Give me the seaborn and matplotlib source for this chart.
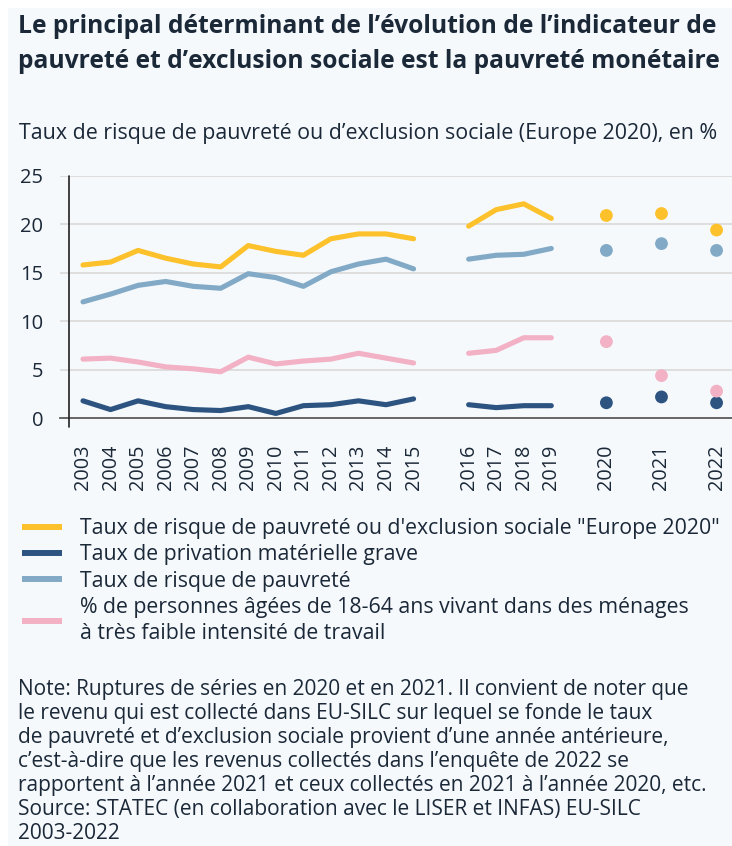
import matplotlib
matplotlib.use("Agg")
import matplotlib.pyplot as plt
from matplotlib.lines import Line2D
from matplotlib.patches import Rectangle
import numpy as np
import pandas as pd
import seaborn as sns

# ---- data -------------------------------------------------------------
years = list(range(2003, 2023))
# survey blocks separated by series breaks
year_groups = [list(range(2003, 2016)), list(range(2016, 2020)), [2020], [2021], [2022]]

europe2020 = [15.8, 16.1, 17.3, 16.5, 15.9, 15.6, 17.8, 17.2, 16.8, 18.5, 19.0, 19.0, 18.5,
              19.8, 21.5, 22.1, 20.6, 20.9, 21.1, 19.4]
privation = [1.8, 0.9, 1.8, 1.2, 0.9, 0.8, 1.2, 0.5, 1.3, 1.4, 1.8, 1.4, 2.0,
             1.4, 1.1, 1.3, 1.3, 1.6, 2.2, 1.6]
risque_pauvrete = [12.0, 12.8, 13.7, 14.1, 13.6, 13.4, 14.9, 14.5, 13.6, 15.1, 15.9, 16.4, 15.4,
                   16.4, 16.8, 16.9, 17.5, 17.3, 18.0, 17.3]
faible_intensite = [6.1, 6.2, 5.8, 5.3, 5.1, 4.8, 6.3, 5.6, 5.9, 6.1, 6.7, 6.2, 5.7,
                    6.7, 7.0, 8.3, 8.3, 7.9, 4.4, 2.8]

series_labels = [
    'Taux de risque de pauvreté ou d\'exclusion sociale "Europe 2020"',
    "Taux de privation matérielle grave",
    "Taux de risque de pauvreté",
    "% de personnes âgées de 18-64 ans vivant dans des ménages\nà très faible intensité de travail",
]
series_values = [europe2020, privation, risque_pauvrete, faible_intensite]
colors = ["#FDC12B", "#2D5481", "#82AAC7", "#F2B1C4"]
y_ticks = [0, 5, 10, 15, 20, 25]

title = ("Le principal déterminant de l’évolution de l’indicateur de\n"
         "pauvreté et d’exclusion sociale est la pauvreté monétaire")
subtitle = "Taux de risque de pauvreté ou d’exclusion sociale (Europe 2020), en %"
note = ("Note: Ruptures de séries en 2020 et en 2021. Il convient de noter que\n"
        "le revenu qui est collecté dans EU-SILC sur lequel se fonde le taux\n"
        "de pauvreté et d’exclusion sociale provient d’une année antérieure,\n"
        "c’est-à-dire que les revenus collectés dans l’enquête de 2022 se\n"
        "rapportent à l’année 2021 et ceux collectés en 2021 à l’année 2020, etc.\n"
        "Source: STATEC (en collaboration avec le LISER et INFAS) EU-SILC\n"
        "2003-2022")

# ---- layout of categories: one empty slot after each block ----------
pos_of = {}
block_of = {}
p = 0
for b, grp in enumerate(year_groups):
    for y in grp:
        pos_of[y] = p
        block_of[y] = b
        p += 1
    p += 1

rows = []
for label, vals in zip(series_labels, series_values):
    for y, v in zip(years, vals):
        rows.append({"year": y, "pos": pos_of[y], "block": block_of[y],
                     "series": label, "value": v})
df = pd.DataFrame(rows)

# ---- figure ------------------------------------------------------------
sns.set_theme(style="white")
plt.rcParams["font.family"] = ["Open Sans", "DejaVu Sans"]
text_color = "#1B2838"
bg = "#F5F9FC"
W, H = 732, 846

fig = plt.figure(figsize=(W / 100, H / 100), dpi=100, facecolor="white")
fig.patches.append(Rectangle((8 / W, 0), 1, 1 - 8 / H, transform=fig.transFigure,
                             facecolor=bg, edgecolor="none", zorder=-10))

ax = fig.add_axes([60 / W, (H - 418.3) / H, 672 / W, (418.3 - 175.7) / H])
ax.set_facecolor(bg)

for label, color in zip(series_labels, colors):
    sub = df[df["series"] == label]
    for b, grp in sub.groupby("block"):
        if len(grp) > 1:
            sns.lineplot(data=grp, x="pos", y="value", color=color, linewidth=3.7,
                         ax=ax, legend=False, zorder=3)
        else:
            sns.scatterplot(data=grp, x="pos", y="value", color=color, s=85,
                            edgecolor="none", ax=ax, legend=False, zorder=3)

ax.set_xlim(-0.835, 23.56)
ax.set_ylim(0, 25)
ax.set_yticks(y_ticks)
ax.set_yticklabels([str(t) for t in y_ticks], fontsize=14.5, color=text_color)
ax.set_xticks([pos_of[y] for y in years])
ax.set_xticklabels([str(y) for y in years], rotation=90, fontsize=14.3, color=text_color)
ax.tick_params(axis="both", length=0)
ax.tick_params(axis="x", pad=19)
ax.tick_params(axis="y", pad=12)
for t in y_ticks[1:]:
    ax.axhline(t, color="#DCDCDC", linewidth=1.3, zorder=1)
for s in ["top", "right", "left"]:
    ax.spines[s].set_visible(False)
ax.spines["bottom"].set_color("#5A5A5A")
ax.spines["bottom"].set_linewidth(1.3)
ax.plot([-0.5, -0.5], [-0.9, 25], color="#222222", linewidth=1.2, clip_on=False, zorder=4)
ax.set_xlabel("")
ax.set_ylabel("")

# ---- texts -------------------------------------------------------------
fig.text(18 / W, 1 - 14 / H, title, fontsize=17.7, fontweight="bold",
         color=text_color, va="top", ha="left", linespacing=1.55)
fig.text(19 / W, 1 - 133 / H, subtitle, fontsize=15.4, color=text_color,
         va="center", ha="left")

handles = [Line2D([], [], color=c, linewidth=4.3, solid_capstyle="butt") for c in colors]
leg = fig.legend(handles, series_labels, loc="upper left",
                 bbox_to_anchor=(22 / W, 1 - 518 / H), frameon=False,
                 fontsize=15.3, handlelength=1.9, handletextpad=0.85, labelspacing=0.25,
                 labelcolor=text_color, borderaxespad=0, borderpad=0)
for t in leg.get_texts():
    t.set_linespacing(1.3)

fig.text(18 / W, 1 - 679 / H, note, fontsize=15.0, color=text_color,
         va="top", ha="left", linespacing=1.19)

fig.savefig("out.png", dpi=100, facecolor=fig.get_facecolor())
